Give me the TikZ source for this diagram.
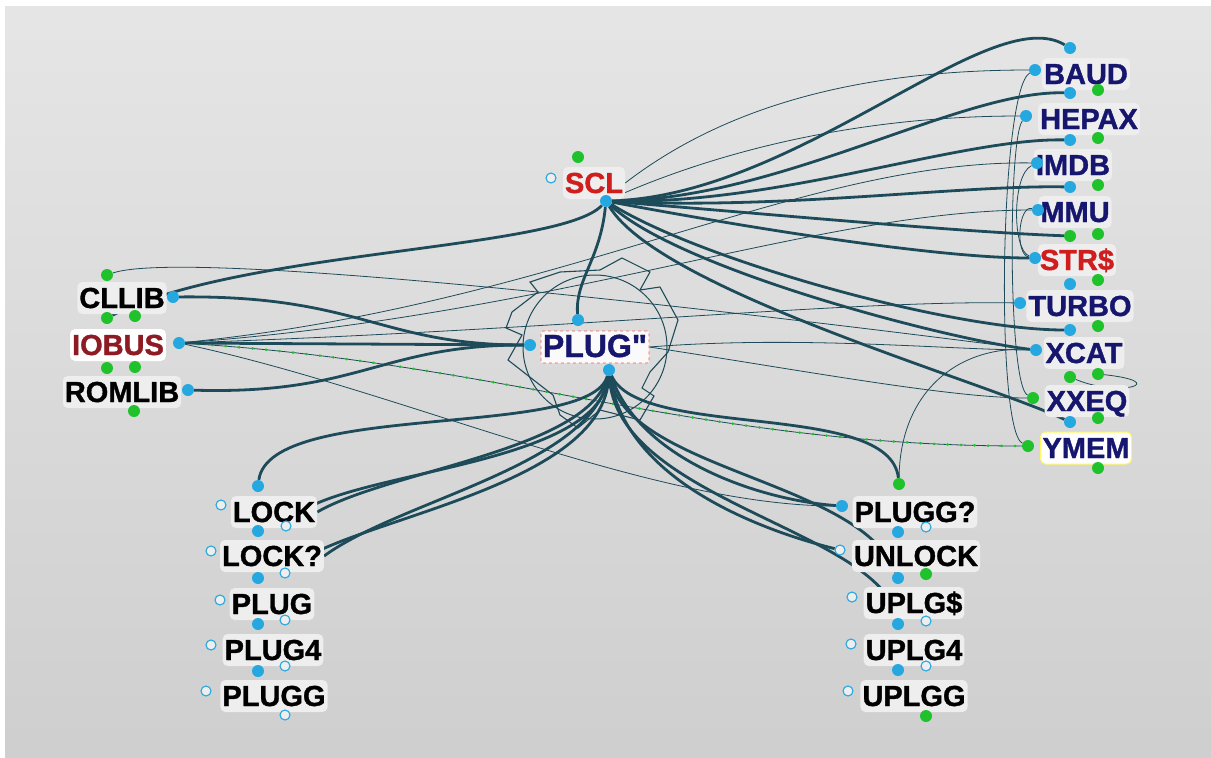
\documentclass[tikz,border=0pt]{standalone}
\usepackage{fontspec}
\setmainfont{Liberation Sans}[Ligatures=TeXOff, BoldFeatures={FakeBold=1.2}]
\usetikzlibrary{positioning}
\definecolor{wirecol}{HTML}{1D4B5A}
\definecolor{dotblue}{HTML}{25A8E0}
\definecolor{dotgreen}{HTML}{1FC22B}
\definecolor{navytext}{HTML}{16166E}
\definecolor{redtext}{HTML}{D01E1E}
\definecolor{darkred}{HTML}{8E1A24}
\definecolor{boxgray}{HTML}{EEEEEE}
\pgfdeclarelayer{bg}
\pgfdeclarelayer{edges}
\pgfsetlayers{bg,edges,main}
\tikzstyle{lbl}=[rounded corners=5pt,fill=boxgray,inner xsep=2pt,inner ysep=5pt,text height=21pt,text depth=1pt,font=\bfseries\fontsize{29}{31}\selectfont,text=navytext]
\tikzstyle{bdot}=[circle,fill=dotblue,inner sep=0,minimum size=12pt]
\tikzstyle{gdot}=[circle,fill=dotgreen,inner sep=0,minimum size=12pt]
\tikzstyle{odot}=[circle,draw=dotblue,fill=boxgray,inner sep=0,minimum size=10pt,line width=1.1pt]
\tikzstyle{wire}=[draw=wirecol,line width=2.8pt]
\tikzstyle{thin wire}=[draw=wirecol,line width=0.8pt]

\begin{document}
\begin{tikzpicture}[x=1pt,y=-1pt]

      \useasboundingbox (0,0) rectangle (1211,758);
      \begin{pgfonlayer}{bg}
      \fill[white] (0,0) rectangle (1211,758);
      \shade[top color=black!10, bottom color=black!19] (5,6) rectangle (1211,758);
      \end{pgfonlayer}

      % labels
      \node[lbl, text=redtext] (scl) at (594,183) {SCL};
      \node[lbl, fill=black!2, draw=red!65, dashed, line width=0.8pt, rounded corners=2pt, font=\bfseries\fontsize{32}{34}\selectfont] (plugq) at (595,347) {PLUG"};

      \node[lbl, text=black] (cllib) at (122,298) {CLLIB};
      \node[lbl, text=darkred, fill=white] (iobus) at (118,345) {IOBUS};
      \node[lbl, text=black] (romlib) at (122,392) {ROMLIB};

      \node[lbl] (baud) at (1086,74) {BAUD};
      \node[lbl] (hepax) at (1089,119) {HEPAX};
      \node[lbl] (imdb) at (1073,165) {IMDB};
      \node[lbl] (mmu) at (1075,212) {MMU};
      \node[lbl, text=redtext] (strs) at (1077,260) {STR\$};
      \node[lbl] (turbo) at (1080,306) {TURBO};
      \node[lbl] (xcat) at (1084,353) {XCAT};
      \node[lbl] (xxeq) at (1087,401) {XXEQ};
      \node[lbl, fill=white, draw=yellow!60!white, line width=1pt] (ymem) at (1086,448) {YMEM};

      \node[lbl, text=black] (lock) at (274,512) {LOCK};
      \node[lbl, text=black] (lockq) at (272,556) {LOCK?};
      \node[lbl, text=black] (plug) at (272,604) {PLUG};
      \node[lbl, text=black] (plugf) at (273,650) {PLUG4};
      \node[lbl, text=black] (plugg) at (274,696) {PLUGG};

      \node[lbl, text=black] (pluggq) at (915,512) {PLUGG?};
      \node[lbl, text=black] (unlock) at (916,556) {UNLOCK};
      \node[lbl, text=black] (uplgs) at (914,603) {UPLG\$};
      \node[lbl, text=black] (uplgf) at (914,650) {UPLG4};
      \node[lbl, text=black] (uplgg) at (914,696) {UPLGG};

      % ports
      \node[gdot] (scl-g) at (578,157) {};
      \node[odot] (scl-o) at (551,178) {};
      \node[bdot] (scl-b) at (606,201) {};
      \node[bdot] (pq-t) at (578,320) {};
      \node[bdot] (pq-l) at (530,345) {};
      \node[bdot] (pq-b) at (609,370) {};

      \node[gdot] (cl-t) at (107,275) {};
      \node[bdot] (cl-r) at (173,297) {};
      \node[gdot] (cl-b1) at (107,318) {};
      \node[gdot] (cl-b2) at (135,316) {};
      \node[bdot] (io-r) at (179,343) {};
      \node[gdot] (io-b1) at (107,368) {};
      \node[gdot] (io-b2) at (135,367) {};
      \node[bdot] (rl-r) at (188,390) {};
      \node[gdot] (rl-b) at (134,411) {};

      \node[bdot] (ba-t) at (1070,48) {};
      \node[bdot] (ba-l) at (1035,70) {};
      \node[bdot] (ba-b) at (1070,93) {};
      \node[gdot] (ba-g) at (1098,90) {};
      \node[bdot] (he-l) at (1026,116) {};
      \node[bdot] (he-b) at (1070,140) {};
      \node[gdot] (he-g) at (1098,138) {};
      \node[bdot] (im-l) at (1037,163) {};
      \node[bdot] (im-b) at (1070,187) {};
      \node[gdot] (im-g) at (1098,185) {};
      \node[bdot] (mm-l) at (1038,210) {};
      \node[gdot] (mm-b) at (1070,236) {};
      \node[gdot] (mm-g) at (1098,234) {};
      \node[bdot] (st-l) at (1035,258) {};
      \node[bdot] (st-b) at (1070,284) {};
      \node[gdot] (st-g) at (1098,280) {};
      \node[bdot] (tu-l) at (1020,303) {};
      \node[bdot] (tu-b) at (1070,330) {};
      \node[gdot] (tu-g) at (1098,326) {};
      \node[bdot] (xc-l) at (1036,350) {};
      \node[gdot] (xc-b) at (1070,377) {};
      \node[gdot] (xc-g) at (1098,374) {};
      \node[gdot] (xx-l) at (1033,398) {};
      \node[bdot] (xx-b) at (1070,422) {};
      \node[gdot] (xx-g) at (1098,418) {};
      \node[gdot] (ym-l) at (1028,446) {};
      \node[gdot] (ym-g) at (1098,468) {};

      \node[bdot] (lk-t) at (258,486) {};
      \node[odot] (lk-o) at (221,505) {};
      \node[bdot] (lk-b) at (258,531) {};
      \node[odot] (lk-o2) at (286,526) {};
      \node[odot] (lq-o) at (211,551) {};
      \node[bdot] (lq-b) at (258,578) {};
      \node[odot] (lq-o2) at (285,573) {};
      \node[odot] (pl-o) at (220,600) {};
      \node[bdot] (pl-b) at (258,624) {};
      \node[odot] (pl-o2) at (285,620) {};
      \node[odot] (p4-o) at (211,645) {};
      \node[bdot] (p4-b) at (258,671) {};
      \node[odot] (p4-o2) at (285,666) {};
      \node[odot] (pg-o) at (206,691) {};
      \node[odot] (pg-o2) at (285,715) {};

      \node[gdot] (gq-t) at (899,484) {};
      \node[bdot] (gq-l) at (842,506) {};
      \node[bdot] (gq-b) at (898,532) {};
      \node[odot] (gq-o) at (926,527) {};
      \node[odot] (un-o) at (840,550) {};
      \node[bdot] (un-b) at (898,578) {};
      \node[gdot] (un-g) at (926,574) {};
      \node[odot] (us-o) at (852,597) {};
      \node[bdot] (us-b) at (898,624) {};
      \node[odot] (us-o2) at (926,621) {};
      \node[odot] (u4-o) at (851,644) {};
      \node[bdot] (u4-b) at (898,670) {};
      \node[odot] (u4-o2) at (926,666) {};
      \node[odot] (ug-o) at (848,691) {};
      \node[gdot] (ug-g) at (926,716) {};

      \begin{pgfonlayer}{edges}
      % thin links
      \draw[thin wire] (scl.east) .. controls (720,110) and (850,70) .. (ba-l);
      \draw[thin wire] (scl-b) .. controls (720,150) and (860,116) .. (he-l);
      \draw[thin wire] (io-r) .. controls (560,305) and (800,160) .. (im-l);
      \draw[thin wire] (io-r) .. controls (560,315) and (820,210) .. (mm-l);
      \draw[thin wire] (io-r) .. controls (560,330) and (850,300) .. (tu-l);
      \draw[thin wire] (cl-t) .. controls (180,250) and (650,300) .. (xc-l);
      \draw[thin wire] (plugq.east) .. controls (800,370) and (950,398) .. (xx-l);
      \draw[thin wire] (plugq.east) .. controls (800,335) and (950,350) .. (xc-l);
      \draw[thin wire] (gq-t) .. controls (900,390) and (960,345) .. (xc-l);
      \draw[thin wire] (io-r) .. controls (400,390) and (650,506) .. (gq-l);
      \draw[thin wire] (io-r) .. controls (500,362) and (700,446) .. (ym-l);
      \draw[dotgreen, line width=2.6pt, line cap=round, dash pattern=on 0.5pt off 13pt] (io-r) .. controls (500,362) and (700,446) .. (ym-l);
      \draw[thin wire] (ba-l) .. controls (1000,90) and (995,430) .. (ym-l);
      \draw[thin wire] (he-l) .. controls (1008,140) and (1008,385) .. (xx-l);
      \draw[thin wire] (im-l) .. controls (1012,175) and (1012,250) .. (st-l);
      \draw[thin wire] (mm-l) .. controls (1018,205) and (1015,255) .. (st-l);
      \draw[thin wire] (xc-b) .. controls (1120,398) and (1172,382) .. (xc-g);
      \draw[thin wire, line width=1pt] (plugq.center) circle (72);
      \draw[thin wire, line width=1.1pt] (530,282) -- (538,292) -- (512,312) -- (506,328) -- (522,335) -- (508,360) -- (540,385) -- (553,395) -- (560,415) -- (578,428) -- (600,410) -- (640,420) -- (654,396) -- (642,388) -- (650,372) -- (668,352) -- (678,320) -- (660,287) -- (640,290) -- (650,272) -- (622,258) -- (600,270) -- (560,272) -- cycle;

      % thick links
      \draw[wire] (scl-b) .. controls (800,195) and (990,0) .. (ba-t);
      \draw[wire] (scl-b) .. controls (780,200) and (960,90) .. (ba-b);
      \draw[wire] (scl-b) .. controls (780,205) and (960,138) .. (he-b);
      \draw[wire] (scl-b) .. controls (780,210) and (960,185) .. (im-b);
      \draw[wire] (scl-b) .. controls (780,215) and (960,232) .. (mm-b);
      \draw[wire] (scl-b) .. controls (760,230) and (940,258) .. (st-l);
      \draw[wire] (scl-b) .. controls (700,260) and (950,330) .. (tu-b);
      \draw[wire] (scl-b) .. controls (680,270) and (950,340) .. (xc-l);
      \draw[wire] (scl-b) .. controls (660,290) and (980,380) .. (xx-b);
      \draw[wire] (scl-b) .. controls (600,260) and (575,280) .. (pq-t);
      \draw[wire] (scl-b) .. controls (560,250) and (240,250) .. (cl-b1);

      \draw[wire] (cl-r) .. controls (360,295) and (380,345) .. (pq-l);
      \draw[wire] (io-r) -- (pq-l);
      \draw[wire] (rl-r) .. controls (360,395) and (380,345) .. (pq-l);

      \draw[wire] (pq-b) .. controls (590,440) and (270,400) .. (lk-t);
      \draw[wire] (pq-b) .. controls (590,450) and (390,470) .. (lock.east);
      \draw[wire] (pq-b) .. controls (595,465) and (400,500) .. (lockq.east);
      \draw[wire] (pq-b) .. controls (600,470) and (330,470) .. (lk-o2);
      \draw[wire] (pq-b) .. controls (605,490) and (340,520) .. (lq-o2);

      \draw[wire] (pq-b) .. controls (640,440) and (890,400) .. (gq-t);
      \draw[wire] (pq-b) .. controls (640,460) and (760,500) .. (gq-l);
      \draw[wire] (pq-b) .. controls (625,480) and (760,530) .. (un-o);
      \draw[wire] (pq-b) .. controls (625,470) and (860,480) .. (un-b);
      \draw[wire] (pq-b) .. controls (615,500) and (880,530) .. (us-b);
      \end{pgfonlayer}

\end{tikzpicture}
\end{document}
